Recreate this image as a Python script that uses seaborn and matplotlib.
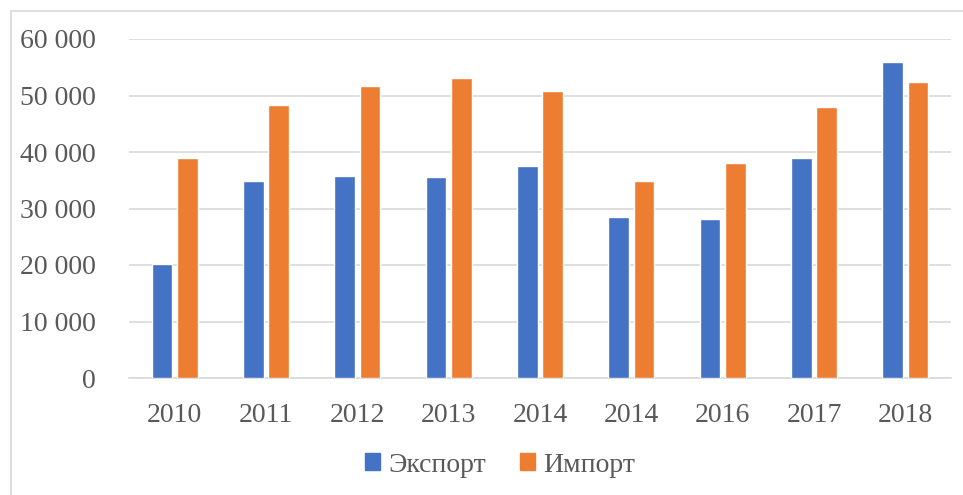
import pandas as pd
import matplotlib.pyplot as plt
import seaborn as sns
from matplotlib.lines import Line2D

years = ['2010', '2011', '2012', '2013', '2014', '2014', '2016', '2017', '2018']
export = [20100, 34800, 35700, 35500, 37500, 28500, 28100, 38900, 55900]
imports = [38900, 48300, 51700, 53100, 50800, 34800, 38000, 48000, 52400]
series = ['Экспорт', 'Импорт']
colors = ['#4472C4', '#ED7D31']
yticks = [0, 10000, 20000, 30000, 40000, 50000, 60000]
ytick_labels = ['0', '10 000', '20 000', '30 000', '40 000', '50 000', '60 000']

sns.set_style('white')
plt.rcParams['font.family'] = ['Liberation Serif', 'DejaVu Serif']
text_color = '#595959'
grid_color = '#D9D9D9'

# positions as keys so the duplicated "2014" stays two groups
df = pd.DataFrame({
    'pos': list(range(len(years))) * 2,
    'value': export + imports,
    'series': [series[0]] * len(years) + [series[1]] * len(years),
})

fig = plt.figure(figsize=(9.63, 4.95), dpi=100)
ax = fig.add_axes([129 / 963, 1 - 378 / 495, 822 / 963, 339 / 495])

sns.barplot(data=df, x='pos', y='value', hue='series', palette=colors,
            width=0.55, gap=0.18, saturation=1, ax=ax, legend=False, zorder=3)

ax.set_ylim(0, 60000)
ax.set_xlim(-0.5, len(years) - 0.5)
ax.set_yticks(yticks)
ax.set_yticklabels(ytick_labels)
ax.set_xticks(range(len(years)))
ax.set_xticklabels(years)
ax.set_xlabel('')
ax.set_ylabel('')
ax.tick_params(axis='both', length=0, labelsize=20, labelcolor=text_color)
ax.tick_params(axis='y', pad=24)
ax.tick_params(axis='x', pad=18)
ax.grid(axis='y', color=grid_color, linewidth=1.2, zorder=0)
ax.set_axisbelow(True)
for s in ['top', 'right', 'left']:
    ax.spines[s].set_visible(False)
ax.spines['bottom'].set_color(grid_color)
ax.spines['bottom'].set_linewidth(1.2)

handles = [plt.Rectangle((0, 0), 1, 1, color=c) for c in colors]
fig.legend(handles, series, loc='center', bbox_to_anchor=(500 / 963, 1 - 465 / 495),
           ncol=2, frameon=False, fontsize=20, labelcolor=text_color,
           handlelength=0.55, handleheight=0.55, handletextpad=0.3, columnspacing=1.2)

# chart frame (left and top edges visible)
fig.add_artist(Line2D([10.5 / 963, 10.5 / 963], [0, 1 - 11 / 495], color=grid_color, lw=1.2))
fig.add_artist(Line2D([10.5 / 963, 1], [1 - 11 / 495, 1 - 11 / 495], color=grid_color, lw=1.2))

plt.savefig('out.png', dpi=100)
